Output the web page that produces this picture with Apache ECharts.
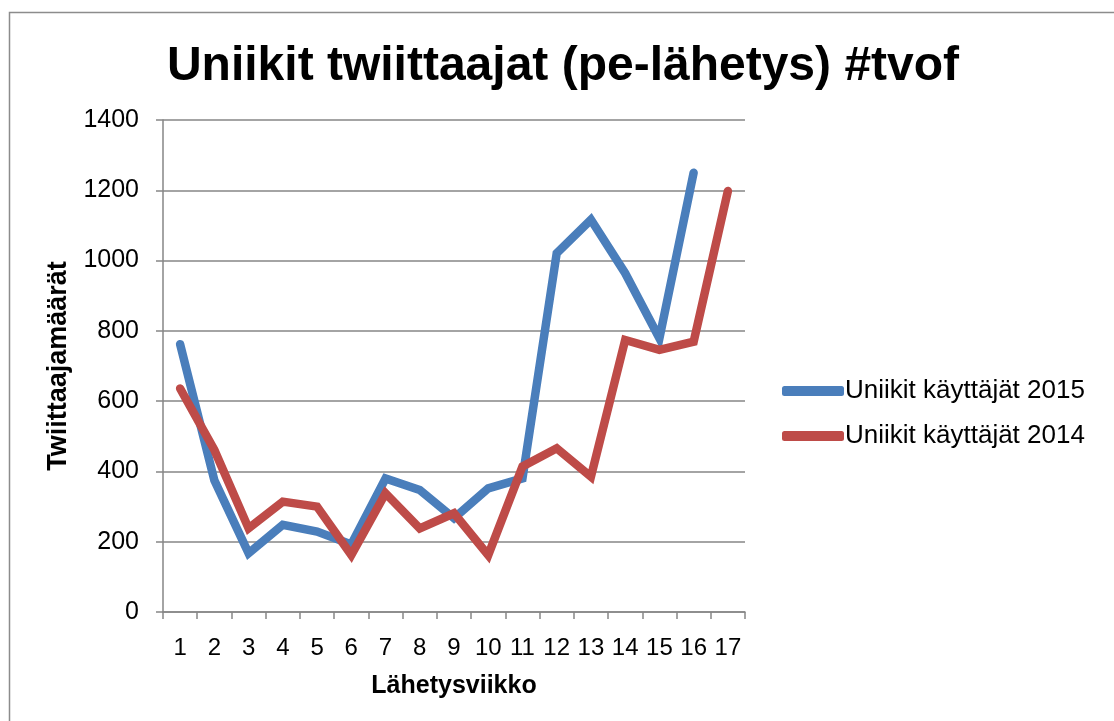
<!DOCTYPE html>
<html>
<head>
<meta charset="utf-8">
<script src="https://cdn.jsdelivr.net/npm/echarts@6/dist/echarts.min.js"></script>
<style>
html,body{margin:0;padding:0;background:#fff;}
#c{width:1114px;height:721px;}
</style>
</head>
<body>
<div id="c"></div>
<script>
var weeks = ['1','2','3','4','5','6','7','8','9','10','11','12','13','14','15','16','17'];
var users2015 = [762, 375, 167, 248, 229, 192, 380, 347, 267, 352, 380, 1021, 1116, 964, 779, 1250, null];
var users2014 = [636, 461, 238, 314, 300, 162, 338, 238, 281, 162, 414, 466, 385, 774, 746, 769, 1198];
var seriesNames = ['Uniikit käyttäjät 2015', 'Uniikit käyttäjät 2014'];
var titleText = 'Uniikit twiittaajat (pe-lähetys) #tvof';
var xName = 'Lähetysviikko';
var yName = 'Twiittaajamäärät';

var font = '"Liberation Sans", Arial, sans-serif';
var chart = echarts.init(document.getElementById('c'));
chart.setOption({
  animation: false,
  backgroundColor: '#fff',
  textStyle: {fontFamily: font},
  graphic: [{
    type: 'polyline',
    shape: {points: [[9.5, 730], [9.5, 12.5], [1130, 12.5]]},
    style: {stroke: '#8c8c8c', lineWidth: 1.5, fill: null},
    silent: true
  }],
  title: {
    text: titleText,
    left: 558, textAlign: 'center',
    top: 38,
    textStyle: {fontFamily: font, fontSize: 48, fontWeight: 'bold', color: '#000'}
  },
  legend: {
    orient: 'vertical',
    left: 777, top: 373,
    itemWidth: 62, itemHeight: 10, itemGap: 19,
    icon: 'roundRect',
    textStyle: {fontFamily: font, fontSize: 26, color: '#000', padding: [0,0,0,-4]},
    data: seriesNames
  },
  grid: {left: 163, right: 369, top: 120, bottom: 109, containLabel: false},
  xAxis: {
    type: 'category',
    data: weeks,
    boundaryGap: true,
    name: xName,
    nameLocation: 'middle',
    nameGap: 62,
    nameTextStyle: {fontFamily: font, fontSize: 25, fontWeight: 'bold', color: '#000'},
    axisLine: {lineStyle: {color: '#868686', width: 1.5}},
    axisTick: {show: true, alignWithLabel: false, length: 7, inside: false, lineStyle: {color: '#868686', width: 1.5}},
    axisLabel: {fontFamily: font, fontSize: 24, color: '#000', margin: 24, interval: 0},
    splitLine: {show: false}
  },
  yAxis: {
    type: 'value',
    min: 0, max: 1400, interval: 200,
    name: yName,
    nameLocation: 'middle',
    nameRotate: 90,
    nameGap: 79,
    nameTextStyle: {fontFamily: font, fontSize: 27, fontWeight: 'bold', color: '#000'},
    axisLine: {show: true, lineStyle: {color: '#868686', width: 1.5}},
    axisTick: {show: true, length: 7, lineStyle: {color: '#868686', width: 1.5}},
    axisLabel: {fontFamily: font, fontSize: 25, color: '#000', margin: 24, formatter: function (v) { return String(v); }},
    splitLine: {show: true, lineStyle: {color: '#868686', width: 1.5}}
  },
  series: [
    {
      name: seriesNames[0], type: 'line', data: users2015,
      symbol: 'none', color: '#4A7EBB',
      lineStyle: {width: 8.5, color: '#4A7EBB', cap: 'round', join: 'miter'}
    },
    {
      name: seriesNames[1], type: 'line', data: users2014,
      symbol: 'none', color: '#BE4B48',
      lineStyle: {width: 8.5, color: '#BE4B48', cap: 'round', join: 'miter'}
    }
  ]
});
</script>
</body>
</html>
